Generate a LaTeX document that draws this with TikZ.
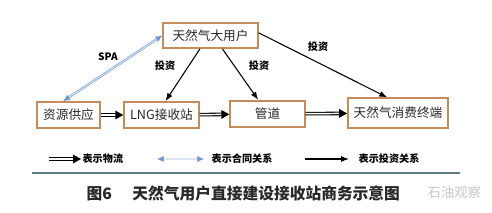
\documentclass[tikz,border=0pt]{standalone}
\usepackage{fontspec}
\setmainfont{Noto Sans CJK SC}
\usetikzlibrary{arrows.meta, positioning}

\definecolor{boxline}{RGB}{196,140,92}
\definecolor{spablue}{RGB}{110,150,205}
\definecolor{rulegray}{RGB}{95,125,135}
\definecolor{textgray}{RGB}{40,40,40}

\tikzset{
    box/.style={draw=boxline, line width=1.3pt, fill=white, inner sep=0pt,
        text=textgray, font=\fontsize{9.5}{11}\selectfont},
    flow/.style={double, double distance=1.1pt, line width=0.8pt,
        -{Triangle[length=6pt, width=6.5pt]}},
    contract/.style={draw=spablue, double=spablue!25, double distance=0.8pt,
        line width=0.45pt, {Latex[length=5pt, width=4.5pt]}-{Latex[length=5pt, width=4.5pt]}},
    invest/.style={line width=0.8pt, -{Latex[length=6pt, width=4.5pt]}},
    lbl/.style={font=\bfseries\fontsize{7.6}{8.5}\selectfont},
}

\begin{document}
\begin{tikzpicture}[x=0.75pt, y=-0.75pt]
    \useasboundingbox (0,0) rectangle (492,213);

    % boxes
    \node[box, minimum width=71pt, minimum height=19pt] (yonghu) at (210.5,35.5) {天然气大用户};
    \node[box, minimum width=47pt, minimum height=19.5pt] (ziyuan) at (68.5,115) {资源供应};
    \node[box, minimum width=56pt, minimum height=19.5pt] (lng) at (161.5,115) {LNG接收站};
    \node[box, minimum width=56pt, minimum height=20pt] (guandao) at (267.5,114) {管道};
    \node[box, minimum width=75pt, minimum height=22pt] (zhongduan) at (398,113) {天然气消费终端};

    % material flow
    \draw[flow] (ziyuan) -- (lng);
    \draw[flow] (lng) -- (guandao);
    \draw[flow] (guandao) -- (zhongduan);

    % contract
    \draw[contract] ([xshift=-4pt]ziyuan.north) -- (yonghu.west);
    \node[lbl] (spa) at (108,57) {SPA};

    % investment
    \draw[invest] ([xshift=-8pt]yonghu.south) -- ([xshift=3pt]lng.north);
    \draw[invest] ([xshift=9pt]yonghu.south) -- ([xshift=-7pt]guandao.north);
    \draw[invest] ([yshift=2pt]yonghu.east) -- ([xshift=-8pt]zhongduan.north);
    \node[lbl] (tz1) at (165,66) {投资};
    \node[lbl] (tz2) at (259,66) {投资};
    \node[lbl] (tz3) at (318,47) {投资};

    % legend
    \coordinate (f1) at (49,159);
    \coordinate (f2) at (81,159);
    \coordinate (c1) at (157,159);
    \coordinate (c2) at (204,159);
    \coordinate (i1) at (305,159);
    \coordinate (i2) at (349,159);
    \draw[flow] (f1) -- (f2);
    \draw[contract] (c1) -- (c2);
    \draw[invest] (i1) -- (i2);
    \node[lbl, anchor=west, inner sep=1pt] (l1) at (f2) {表示物流};
    \node[lbl, anchor=west] (l2) at (207,159) {表示合同关系};
    \node[lbl, anchor=west] (l3) at (354,159) {表示投资关系};

    \draw[rulegray, line width=0.8pt] (32,173) -- (460,173);

    % caption
    \node[anchor=west, text=textgray, font=\bfseries\fontsize{11.8}{13}\selectfont] (cap) at (82,193)
        {图6\hspace{1.3em}天然气用户直接建设接收站商务示意图};
    \node[anchor=west, text=gray!45, font=\fontsize{10}{12}\selectfont] (mark) at (423,192) {石油观察};
\end{tikzpicture}
\end{document}
